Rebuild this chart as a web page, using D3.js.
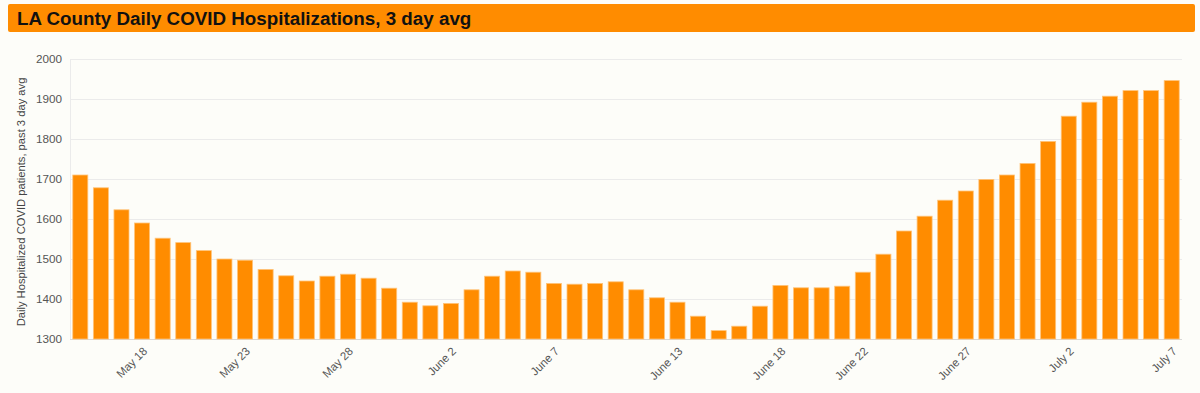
<!DOCTYPE html>
<html>
<head>
<meta charset="utf-8">
<script src="https://cdn.jsdelivr.net/npm/d3@7"></script>
<style>
  html, body { margin: 0; padding: 0; background: #fdfdf9; }
  svg { display: block; }
</style>
</head>
<body>
<svg id="chart" width="1200" height="393"></svg>
<script>
// ---- Data ----
const dates = [
  "May 15","May 16","May 17","May 18","May 19","May 20","May 21","May 22","May 23","May 24",
  "May 25","May 26","May 27","May 28","May 29","May 30","May 31","June 1","June 2","June 3",
  "June 4","June 5","June 6","June 7","June 8","June 9","June 10","June 11","June 12","June 13",
  "June 14","June 15","June 16","June 17","June 18","June 19","June 20","June 21","June 22","June 23",
  "June 24","June 25","June 26","June 27","June 28","June 29","June 30","July 1","July 2","July 3",
  "July 4","July 5","July 6","July 7"
];
const hospitalizations = [
  1710,1678,1623,1590,1552,1541,1521,1500,1497,1474,
  1458,1445,1457,1462,1452,1427,1392,1383,1389,1423,
  1457,1470,1467,1439,1437,1439,1443,1423,1403,1392,
  1357,1321,1332,1382,1434,1428,1428,1432,1467,1512,
  1570,1607,1647,1670,1699,1710,1739,1794,1857,1892,
  1907,1921,1921,1946
];
const xTickLabels = ["May 18","May 23","May 28","June 2","June 7","June 13","June 18","June 22","June 27","July 2","July 7"];
const yTicks = [1300,1400,1500,1600,1700,1800,1900,2000];
const titleText = "LA County Daily COVID Hospitalizations, 3 day avg";
const yAxisTitle = "Daily Hospitalized COVID patients, past 3 day avg";

// ---- Layout ----
const svg = d3.select("#chart");
const W = 1200, H = 393;
const plot = { left: 70, right: 1182, top: 59, bottom: 339 };

svg.append("rect").attr("width", W).attr("height", H).attr("fill", "#fdfdf9");

// Title bar
svg.append("rect")
  .attr("x", 8).attr("y", 4).attr("width", 1187).attr("height", 28)
  .attr("rx", 2).attr("fill", "#ff8c00");
svg.append("text")
  .attr("x", 17).attr("y", 25)
  .attr("font-family", "Liberation Sans, Arial, sans-serif")
  .attr("font-weight", "bold").attr("font-size", 18.8)
  .attr("fill", "#111")
  .text(titleText);

const x = d3.scaleBand().domain(dates).range([plot.left, plot.right])
  .paddingInner(0.27).paddingOuter(0.135);
const y = d3.scaleLinear().domain([1300, 2000]).range([plot.bottom, plot.top]);

// Gridlines
svg.append("g").selectAll("line").data(yTicks).join("line")
  .attr("x1", plot.left).attr("x2", plot.right)
  .attr("y1", d => y(d) + 0.5).attr("y2", d => y(d) + 0.5)
  .attr("stroke", d => d === 1300 ? "#d8d8d8" : "#ebebeb").attr("stroke-width", 1);
// left axis line
svg.append("line")
  .attr("x1", plot.left + 0.5).attr("x2", plot.left + 0.5)
  .attr("y1", plot.top).attr("y2", plot.bottom)
  .attr("stroke", "#ebebeb");

// Y axis
const yAxis = d3.axisLeft(y).tickValues(yTicks).tickFormat(d3.format("d")).tickSize(0).tickPadding(8);
const gy = svg.append("g").attr("transform", `translate(${plot.left},0)`).call(yAxis);
gy.select(".domain").remove();
gy.selectAll("text")
  .attr("font-family", "Liberation Sans, Arial, sans-serif")
  .attr("font-size", 11.7).attr("fill", "#555");

// Bars
svg.append("g").selectAll("rect").data(hospitalizations).join("rect")
  .attr("x", (d, i) => x(dates[i]))
  .attr("width", x.bandwidth())
  .attr("y", d => y(d))
  .attr("height", d => y(1300) - y(d))
  .attr("fill", "#ff8c00")
  .attr("stroke", "#ffc47a").attr("stroke-width", 0.8);

// X axis
const xAxis = d3.axisBottom(x).tickValues(xTickLabels).tickSize(0).tickPadding(0);
const gx = svg.append("g").attr("transform", `translate(0,${plot.bottom})`).call(xAxis);
gx.select(".domain").remove();
gx.selectAll("text")
  .attr("font-family", "Liberation Sans, Arial, sans-serif")
  .attr("font-size", 11.5).attr("fill", "#555")
  .attr("text-anchor", "end")
  .attr("dy", "0.35em")
  .attr("transform", "translate(3,10) rotate(-45)");

// Y axis title
svg.append("text")
  .attr("transform", `translate(25,${(plot.top + plot.bottom) / 2 + 3}) rotate(-90)`)
  .attr("text-anchor", "middle")
  .attr("font-family", "Liberation Sans, Arial, sans-serif")
  .attr("font-size", 11.2).attr("fill", "#444")
  .text(yAxisTitle);
</script>
</body>
</html>
